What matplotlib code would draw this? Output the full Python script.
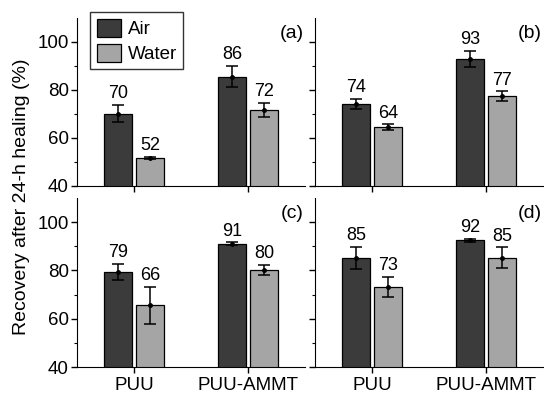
import matplotlib
matplotlib.use("Agg")
import matplotlib.pyplot as plt
import numpy as np

plt.rcParams['font.family'] = ['Liberation Sans', 'DejaVu Sans']

groups = ["PUU", "PUU-AMMT"]
series = ["Air", "Water"]
panel_labels = ["(a)", "(b)", "(c)", "(d)"]
# values per panel: [Air(PUU, AMMT)], [Water(PUU, AMMT)]
air_vals = [[70.2, 85.6], [74.2, 92.9], [79.4, 91.1], [85.2, 92.5]]
air_errs = [[3.5, 4.5], [2.0, 3.3], [3.3, 0.5], [4.6, 0.6]]
water_vals = [[51.7, 71.7], [64.5, 77.4], [65.6, 80.2], [73.1, 85.2]]
water_errs = [[0.4, 3.0], [1.2, 2.0], [7.6, 2.2], [4.2, 4.4]]
air_labels = [["70", "86"], ["74", "93"], ["79", "91"], ["85", "92"]]
water_labels = [["52", "72"], ["64", "77"], ["66", "80"], ["73", "85"]]

W, H = 544, 394
fig = plt.figure(figsize=(W / 100, H / 100), dpi=100)

lefts = [77, 315]
widths = [228, 228]
tops = [18, 198]
heights = [168, 169]

air_color = "#3b3b3b"
water_color = "#a5a5a5"
bw = 0.24
off = 0.14
fs = 13.5

axes = []
for i in range(4):
    r, c = divmod(i, 2)
    ax = fig.add_axes([lefts[c] / W, 1 - (tops[r] + heights[r]) / H,
                       widths[c] / W, heights[r] / H])
    axes.append(ax)
    x = np.arange(len(groups))
    ax.bar(x - off, air_vals[i], bw, color=air_color, edgecolor="black",
           linewidth=0.9, label=series[0], zorder=2)
    ax.bar(x + off, water_vals[i], bw, color=water_color, edgecolor="black",
           linewidth=0.9, label=series[1], zorder=2)
    ax.errorbar(x - off, air_vals[i], yerr=air_errs[i], fmt='o', ms=2.5,
                color="black", ecolor="black", elinewidth=1.1, capsize=4,
                capthick=1.1, zorder=3)
    ax.errorbar(x + off, water_vals[i], yerr=water_errs[i], fmt='o', ms=2.5,
                color="black", ecolor="black", elinewidth=1.1, capsize=4,
                capthick=1.1, zorder=3)
    for j in range(len(groups)):
        ax.text(x[j] - off, air_vals[i][j] + air_errs[i][j] + 1.1, air_labels[i][j],
                ha="center", va="bottom", fontsize=13)
        ax.text(x[j] + off, water_vals[i][j] + water_errs[i][j] + 1.1, water_labels[i][j],
                ha="center", va="bottom", fontsize=13)
    ax.set_xlim(-0.5, 1.5)
    ax.set_ylim(40, 110)
    ax.set_yticks([40, 60, 80, 100])
    ax.set_yticks([50, 70, 90], minor=True)
    ax.set_xticks(x)
    ax.spines['top'].set_visible(False)
    ax.spines['right'].set_visible(False)
    ax.tick_params(axis='both', which='both', direction='out', labelsize=fs)
    ax.tick_params(axis='both', which='major', length=4, width=1)
    ax.tick_params(axis='y', which='minor', length=2.5, width=0.8)
    ax.tick_params(axis='x', which='major', pad=3)
    ax.tick_params(axis='y', which='major', pad=2)
    if r == 0:
        ax.set_xticklabels([])
    else:
        ax.set_xticklabels(groups)
    if c == 1:
        ax.set_yticklabels([])
    ax.text(0.995, 0.96, panel_labels[i], transform=ax.transAxes, ha="right",
            va="top", fontsize=14)
    if i == 0:
        leg = ax.legend(loc="upper left", bbox_to_anchor=(0.057, 1.036), fontsize=13.5,
                        frameon=True, fancybox=False, edgecolor="black",
                        handlelength=1.3, handleheight=1.1, handletextpad=0.35,
                        borderpad=0.35, labelspacing=0.3, borderaxespad=0)
        leg.get_frame().set_linewidth(1.0)

fig.text(22 / W, 0.5, "Recovery after 24-h healing (%)", rotation=90,
         ha="center", va="center", fontsize=14)

fig.savefig("out.png", dpi=100)
